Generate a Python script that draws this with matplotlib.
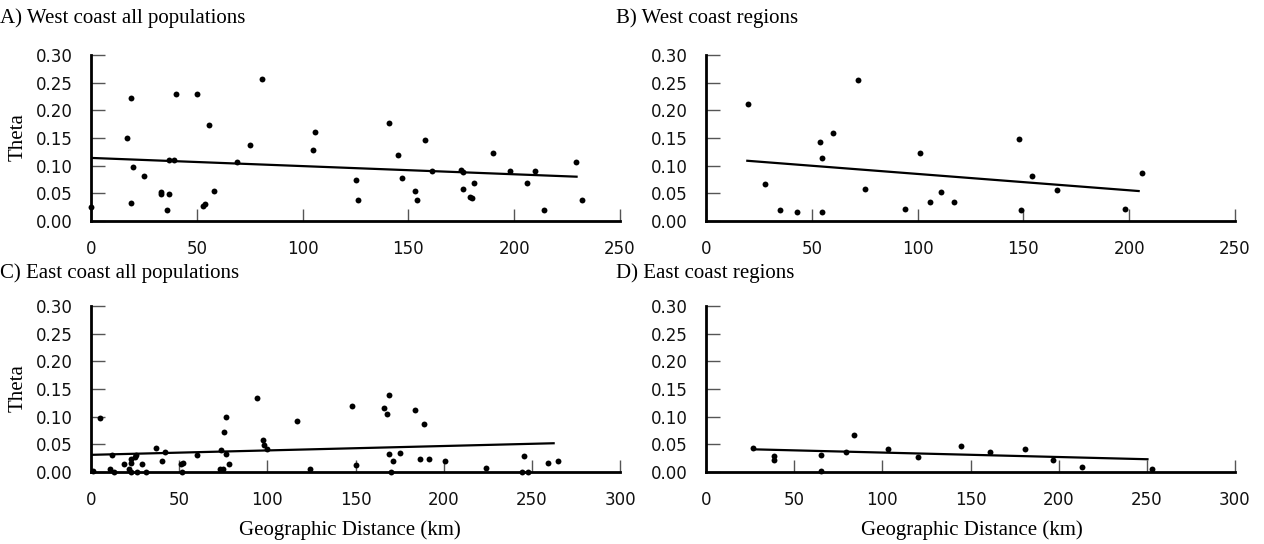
import matplotlib
matplotlib.use("Agg")
import matplotlib.pyplot as plt
import numpy as np

# ---------------- data ----------------
# Panel A: West coast all populations
a_dist = [0, 17, 19, 20, 19, 25, 33, 33, 36, 37, 37, 39, 40, 50, 53, 54, 56, 58, 69, 75, 81,
          105, 106, 125, 126, 141, 145, 147, 153, 154, 158, 161, 175, 176, 176, 179, 180, 181,
          190, 198, 206, 210, 214, 229, 232]
a_theta = [0.025, 0.150, 0.223, 0.097, 0.033, 0.081, 0.052, 0.048, 0.020, 0.048, 0.110, 0.110,
           0.230, 0.230, 0.028, 0.031, 0.174, 0.054, 0.106, 0.138, 0.257,
           0.128, 0.160, 0.075, 0.038, 0.177, 0.119, 0.078, 0.055, 0.038, 0.147, 0.090,
           0.093, 0.088, 0.057, 0.043, 0.041, 0.068, 0.122, 0.090, 0.069, 0.090, 0.020,
           0.106, 0.038]
a_fit_x = [0, 230]
a_fit_y = [0.114, 0.080]

# Panel B: West coast regions
b_dist = [20, 28, 35, 43, 54, 55, 55, 60, 72, 75, 94, 101, 106, 111, 117, 148, 149, 154,
          166, 198, 206]
b_theta = [0.212, 0.067, 0.019, 0.016, 0.142, 0.114, 0.016, 0.159, 0.255, 0.058, 0.022,
           0.123, 0.034, 0.052, 0.034, 0.148, 0.019, 0.081, 0.056, 0.022, 0.086]
b_fit_x = [19, 205]
b_fit_y = [0.109, 0.054]

# Panel C: East coast all populations
c_dist = [1, 5, 11, 12, 13, 18.6, 21.6, 22.6, 22.6, 22.6, 25, 25.6, 26, 29, 31, 37, 40, 41.7,
          51, 51.4, 52, 60, 74, 73.4, 74.6, 75.7, 76.5, 76.6, 78.5, 94, 97.7, 97.9, 99.8, 117,
          124, 148, 150, 166, 168, 169, 169, 170, 171, 175, 184, 186.5, 188.6, 191.4, 200.7,
          224, 244.6, 245.5, 248, 259, 265]
c_theta = [0.002, 0.097, 0.005, 0.031, 0.000, 0.0145, 0.005, 0.017, 0.023, 0.000, 0.027, 0.030,
           0.000, 0.0145, 0.000, 0.043, 0.020, 0.036, 0.0145, 0.000, 0.017, 0.030, 0.039, 0.005,
           0.005, 0.072, 0.100, 0.033, 0.0145, 0.133, 0.057, 0.048, 0.042, 0.093, 0.005,
           0.119, 0.012, 0.115, 0.104, 0.139, 0.032, 0.000, 0.020, 0.035, 0.112, 0.023,
           0.087, 0.023, 0.020, 0.008, 0.000, 0.029, 0.000, 0.017, 0.020]
c_fit_x = [0, 263]
c_fit_y = [0.031, 0.052]

# Panel D: East coast regions
d_dist = [26.6, 38.6, 38.6, 65.4, 65.4, 79.3, 84, 103.4, 120, 144.4, 161, 181, 196.7, 213, 253]
d_theta = [0.044, 0.029, 0.021, 0.030, 0.002, 0.036, 0.067, 0.042, 0.027, 0.047, 0.036,
           0.042, 0.021, 0.009, 0.006]
d_fit_x = [26.6, 251]
d_fit_y = [0.041, 0.023]

titles = ["A) West coast all populations", "B) West coast regions",
          "C) East coast all populations", "D) East coast regions"]
y_ticks = [0.00, 0.05, 0.10, 0.15, 0.20, 0.25, 0.30]
x_ticks_west = [0, 50, 100, 150, 200, 250]
x_ticks_east = [0, 50, 100, 150, 200, 250, 300]

# ---------------- figure ----------------
W, H = 1264, 544
fig = plt.figure(figsize=(W / 100, H / 100), dpi=100)

SERIF = "Liberation Serif"
SANS = "DejaVu Sans"
TXT = 15


def px_axes(left, right, bottom, top):
    return fig.add_axes([left / W, 1 - bottom / H, (right - left) / W, (bottom - top) / H])


panels = [
    (px_axes(91, 620, 221, 55), a_dist, a_theta, a_fit_x, a_fit_y, x_ticks_west, 250),
    (px_axes(706, 1235, 221, 55), b_dist, b_theta, b_fit_x, b_fit_y, x_ticks_west, 250),
    (px_axes(91, 620, 472, 306), c_dist, c_theta, c_fit_x, c_fit_y, x_ticks_east, 300),
    (px_axes(706, 1235, 472, 306), d_dist, d_theta, d_fit_x, d_fit_y, x_ticks_east, 300),
]

for i, (ax, xs, ys, fx, fy, xt, xmax) in enumerate(panels):
    ax.scatter(xs, ys, s=18, color="black", zorder=3, clip_on=False, linewidths=0)
    ax.plot(fx, fy, color="black", lw=1.6, zorder=2, solid_capstyle="butt")
    ax.set_xlim(0, xmax)
    ax.set_ylim(0, 0.30)
    ax.set_xticks(xt)
    ax.set_yticks(y_ticks)
    ax.set_yticklabels([f"{v:.2f}" for v in y_ticks])
    for s in ["top", "right"]:
        ax.spines[s].set_visible(False)
    for s in ["left", "bottom"]:
        ax.spines[s].set_linewidth(2.0)
        ax.spines[s].set_color("black")
    ax.tick_params(axis="y", direction="in", length=10, width=1.0, color="#555555",
                   pad=13, labelsize=12)
    ax.tick_params(axis="x", direction="in", length=9, width=1.0, color="#555555",
                   pad=14, labelsize=12)
    for lab in ax.get_xticklabels() + ax.get_yticklabels():
        lab.set_fontfamily(SANS)
        lab.set_color("#111111")
    ax.set_facecolor("none")

# titles
fig.text(0 / W, 1 - 18 / H, titles[0], fontfamily=SERIF, fontsize=TXT, va="center", ha="left")
fig.text(616 / W, 1 - 18 / H, titles[1], fontfamily=SERIF, fontsize=TXT, va="center", ha="left")
fig.text(0 / W, 1 - 273 / H, titles[2], fontfamily=SERIF, fontsize=TXT, va="center", ha="left")
fig.text(616 / W, 1 - 273 / H, titles[3], fontfamily=SERIF, fontsize=TXT, va="center", ha="left")

# y labels
fig.text(18 / W, 1 - 137 / H, "Theta", fontfamily=SERIF, fontsize=TXT, rotation=90,
         va="center", ha="center")
fig.text(18 / W, 1 - 388 / H, "Theta", fontfamily=SERIF, fontsize=TXT, rotation=90,
         va="center", ha="center")

# x labels
fig.text(350 / W, 1 - 530 / H, "Geographic Distance (km)", fontfamily=SERIF, fontsize=TXT,
         va="center", ha="center")
fig.text(972 / W, 1 - 530 / H, "Geographic Distance (km)", fontfamily=SERIF, fontsize=TXT,
         va="center", ha="center")

fig.savefig("out.png", dpi=100, facecolor="white")
